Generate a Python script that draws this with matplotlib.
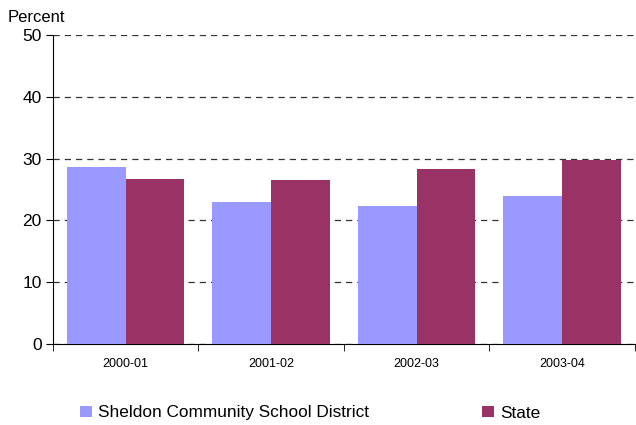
import matplotlib.pyplot as plt
import numpy as np

plt.rcParams['font.family'] = ['Liberation Sans', 'DejaVu Sans']

# data
years = ['2000-01', '2001-02', '2002-03', '2003-04']
district = [28.7, 23.0, 22.3, 23.9]
state = [26.7, 26.5, 28.3, 29.8]

fig = plt.figure(figsize=(6.36, 4.25), dpi=100)
ax = fig.add_axes([0.083, 0.1906, 0.915, 0.727])

x = np.arange(len(years))
w = 0.405
ax.bar(x - w / 2, district, w, color='#9999FF', label='Sheldon Community School District', zorder=3)
ax.bar(x + w / 2, state, w, color='#993366', label='State', zorder=3)

ax.set_xlim(-0.5, len(years) - 0.5)
ax.set_ylim(0, 50)
ax.set_yticks(np.arange(0, 51, 10))
ax.yaxis.grid(True, linestyle=(0, (5, 4)), color='#333333', linewidth=0.9, zorder=0)

# category boundary ticks
ax.set_xticks(x)
ax.set_xticklabels(years, fontsize=9)
ax.set_xticks(np.arange(-0.5, len(years), 1.0), minor=True)
ax.tick_params(axis='x', which='major', length=0, pad=10)
ax.tick_params(axis='x', which='minor', length=5, direction='out', color='black')
ax.tick_params(axis='y', length=5, direction='out', labelsize=12.5, pad=3)

for s in ['top', 'right']:
    ax.spines[s].set_visible(False)
ax.spines['left'].set_color('black')
ax.spines['bottom'].set_color('black')

fig.text(8 / 636, 1 - 17 / 425, 'Percent', fontsize=12, va='center', ha='left')

fig.legend(loc='center left', bbox_to_anchor=(80 / 636, 1 - 413 / 425), ncol=2,
           frameon=False, fontsize=12.4, handlelength=0.68, handleheight=0.68,
           handletextpad=0.35, columnspacing=6.6, borderpad=0, borderaxespad=0)

fig.savefig('out.png', dpi=100)
